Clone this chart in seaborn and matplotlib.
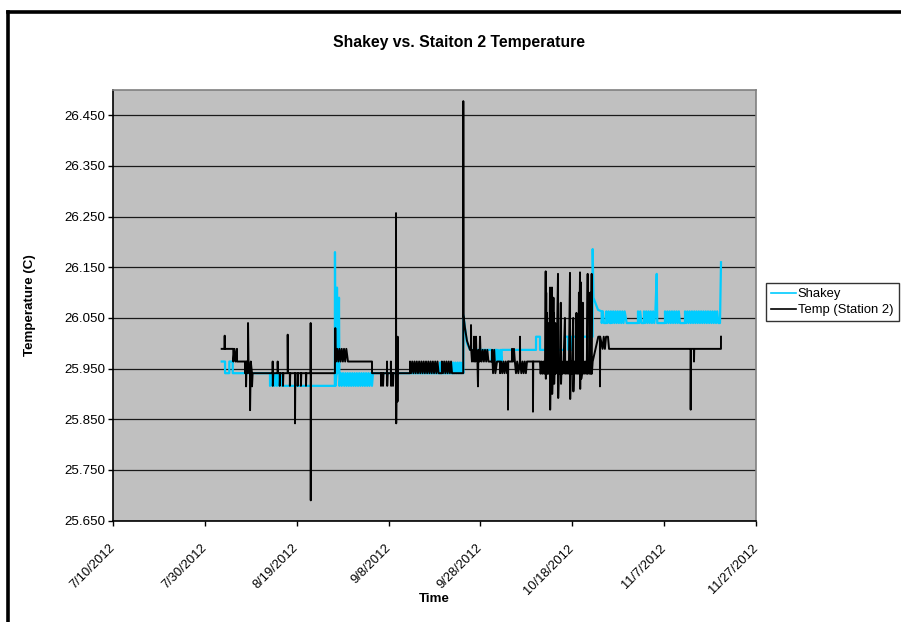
import numpy as np
import pandas as pd
import matplotlib
matplotlib.use("Agg")
import matplotlib.pyplot as plt
from matplotlib.lines import Line2D
import seaborn as sns

plt.rcParams['font.family'] = ['Liberation Sans', 'DejaVu Sans']

# ---------------- data ----------------
start_date = "2012-07-10"
series_names = ["Shakey", "Temp (Station 2)"]

# Shakey: days after 7/10/2012, temperature (C)
shakey_day = [
    23.67, 24.39, 24.40, 25.32, 25.33, 26.06, 26.07, 34.18,
    34.19, 34.45, 34.70, 34.95, 35.20, 35.45, 35.70, 35.95, 36.20, 36.45, 36.80,
    48.30, 48.33, 48.45, 48.70, 48.77, 48.85, 49.21, 49.30,
    49.60, 49.80, 50.08, 50.35, 50.60, 50.85, 51.10, 51.35, 51.60, 51.85,
    52.10, 52.35, 52.60, 52.85, 53.10, 53.35, 53.60, 53.85, 54.10, 54.35,
    54.60, 54.85, 55.10, 55.35, 55.60, 55.85, 56.10, 56.39, 56.61,
    71.20, 71.21, 71.40, 71.41, 74.03,
    74.04, 74.30, 74.55, 74.80, 75.05, 75.30, 75.55, 75.80, 76.05, 76.27,
    76.28, 76.64, 77.07, 77.73,
    82.45, 82.46, 82.70, 82.95, 83.17, 83.54, 83.55, 83.80, 84.05, 84.30, 84.63, 84.64,
    92.10, 92.11, 92.97, 92.98,
    98.41, 98.42, 99.13, 99.14, 99.87, 99.88, 100.96, 100.97, 101.68, 101.69,
    104.43, 104.44, 104.60, 105.60, 106.40,
    106.41, 106.65, 106.90, 107.40, 107.41, 107.65, 107.90, 108.15, 108.40, 108.41,
    108.65, 108.90, 109.15, 109.40, 109.65, 109.90, 110.15, 110.40, 110.65, 110.90,
    111.15, 111.40, 111.84, 114.30,
    114.31, 114.55, 114.80, 115.05, 115.60, 115.61, 115.85, 116.10, 116.35, 116.60,
    116.85, 117.10, 117.35, 117.60, 117.85, 118.10, 118.38, 118.50, 120.18,
    120.19, 120.45, 120.70, 120.95, 121.20, 121.45, 121.70, 121.95, 122.20, 122.45,
    122.70, 122.95, 123.20, 123.45, 123.88, 124.54,
    124.55, 124.80, 125.05, 125.30, 125.55, 125.80, 126.05, 126.30, 126.55, 126.80,
    127.05, 127.30, 127.55, 127.80, 128.05, 128.30, 128.55, 128.80, 129.05, 129.30,
    129.55, 129.80, 130.05, 130.30, 130.55, 130.80, 131.05, 131.30, 131.55, 131.80,
    132.16, 132.38,
]
shakey_val = [
    25.964, 25.964, 25.941, 25.941, 25.964, 25.964, 25.941, 25.941,
    25.916, 25.941, 25.916, 25.941, 25.916, 25.941, 25.916, 25.941, 25.916, 25.941, 25.916,
    25.916, 26.180, 25.916, 25.941, 26.110, 25.941, 26.090, 25.916,
    25.941, 25.916, 25.941, 25.916, 25.941, 25.916, 25.941, 25.916, 25.941, 25.916,
    25.941, 25.916, 25.941, 25.916, 25.941, 25.916, 25.941, 25.916, 25.941, 25.916,
    25.941, 25.916, 25.941, 25.916, 25.941, 25.916, 25.941, 25.916, 25.941,
    25.941, 25.962, 25.962, 25.941, 25.941,
    25.962, 25.941, 25.962, 25.941, 25.962, 25.941, 25.962, 25.941, 25.962, 25.941,
    26.056, 26.030, 26.000, 25.987,
    25.987, 25.964, 25.987, 25.964, 25.987, 25.987, 25.964, 25.987, 25.964, 25.987, 25.964, 25.987,
    25.987, 26.013, 26.013, 25.987,
    25.987, 26.013, 26.013, 25.987, 25.987, 26.013, 26.013, 25.987, 25.987, 26.013,
    26.013, 26.186, 26.090, 26.066, 26.063,
    26.040, 26.063, 26.040, 26.040, 26.063, 26.040, 26.063, 26.040, 26.040, 26.063,
    26.040, 26.063, 26.040, 26.063, 26.040, 26.063, 26.040, 26.063, 26.040, 26.063,
    26.040, 26.063, 26.040, 26.040,
    26.063, 26.040, 26.063, 26.040, 26.040, 26.063, 26.040, 26.063, 26.040, 26.063,
    26.040, 26.063, 26.040, 26.063, 26.040, 26.063, 26.137, 26.040, 26.040,
    26.063, 26.040, 26.063, 26.040, 26.063, 26.040, 26.063, 26.040, 26.063, 26.040,
    26.063, 26.040, 26.063, 26.040, 26.040, 26.040,
    26.063, 26.040, 26.063, 26.040, 26.063, 26.040, 26.063, 26.040, 26.063, 26.040,
    26.063, 26.040, 26.063, 26.040, 26.063, 26.040, 26.063, 26.040, 26.063, 26.040,
    26.063, 26.040, 26.063, 26.040, 26.063, 26.040, 26.063, 26.040, 26.063, 26.040,
    26.040, 26.160,
]

# Temp (Station 2): days after 7/10/2012, temperature (C)
station_day = [
    23.67, 24.31, 24.32, 24.33, 26.19, 26.20, 26.45, 26.70, 27.00, 27.01, 28.74,
    28.75, 28.96, 28.97, 29.10, 29.39, 29.40, 29.50, 29.83, 29.84, 30.00, 30.26, 30.27, 30.40,
    34.76, 34.77, 34.80, 34.90, 35.85, 35.86, 35.90, 36.30, 36.31, 36.40,
    37.00, 37.01, 37.10, 38.03, 38.04, 38.10, 38.50, 38.51, 38.60,
    39.62, 39.63, 39.70, 40.20, 40.21, 40.30, 40.90, 40.91, 41.00,
    42.01, 42.02, 42.10, 43.03, 43.04, 43.06, 43.10,
    48.32, 48.33, 48.40, 48.50, 48.55, 48.80, 49.05, 49.30, 49.55, 49.80, 50.05,
    50.30, 50.55, 50.80, 51.16, 56.39, 56.40,
    58.34, 58.35, 58.45, 58.78, 58.79, 58.90, 59.65, 59.66, 59.70, 59.80,
    60.50, 60.51, 60.55, 60.65, 60.95, 60.96, 61.05,
    61.61, 61.62, 61.66, 61.75, 61.93, 61.94, 61.98, 62.05, 64.66,
    64.67, 64.90, 65.15, 65.40, 65.65, 65.90, 66.15, 66.40, 66.65, 66.90,
    67.15, 67.40, 67.65, 67.90, 68.15, 68.40, 68.65, 68.90, 69.15, 69.40,
    69.65, 69.90, 70.15, 70.40, 70.65, 70.90, 71.60, 71.61, 71.85, 72.10,
    72.35, 72.60, 72.85, 73.10, 73.35, 73.60, 73.81,
    76.26, 76.27, 76.30, 76.64, 77.07, 77.73, 77.94, 77.95, 78.00, 78.16,
    78.40, 78.60, 78.61, 78.65, 78.90, 79.04, 79.10, 79.35, 79.47, 79.55,
    79.80, 79.91, 80.00, 80.25, 80.50, 80.75, 81.00, 81.25, 81.50, 81.75,
    82.08, 82.52, 82.53, 82.75, 83.00, 83.25, 83.61, 84.26, 84.27, 84.50,
    84.75, 85.00, 85.25, 85.50, 85.78, 85.99, 86.00, 86.05, 86.87, 86.88,
    87.10, 87.30, 87.50, 87.74, 88.00, 88.25, 88.60, 88.61, 88.65, 88.90,
    89.15, 89.40, 89.65, 89.90, 90.14, 91.43, 91.44, 91.50, 92.97,
    93.10, 93.30, 93.50, 93.70, 93.90, 94.10, 94.21, 94.25, 94.32, 94.36,
    94.50, 94.55, 94.70, 94.80, 95.00, 95.15, 95.18, 95.30, 95.45, 95.58,
    95.62, 95.80, 95.90, 95.95, 96.00, 96.05, 96.20, 96.30, 96.40, 96.60,
    96.89, 96.93, 97.10, 97.30, 97.50, 97.55, 97.70, 97.90, 98.10, 98.40,
    98.45, 98.65, 98.85, 99.05, 99.25, 99.50, 99.54, 99.70, 99.90, 100.20,
    100.24, 100.40, 100.60, 100.80, 100.90, 101.00, 101.20, 101.30, 101.45, 101.50,
    101.68, 101.72, 101.90, 101.95, 102.10, 102.30, 102.35, 102.55, 102.75, 102.95,
    103.15, 103.35, 103.40, 103.60, 103.80, 103.90, 103.95, 104.05, 104.22, 104.26,
    104.44, 105.66, 106.02, 106.03, 106.08, 106.60, 106.85, 107.10, 107.35, 107.77,
    108.00, 108.21, 125.77, 125.78, 125.82, 126.49, 126.50, 126.55, 132.37, 132.38,
]
station_val = [
    25.989, 25.989, 26.015, 25.989, 25.989, 25.964, 25.989, 25.964, 25.989, 25.964, 25.964,
    25.941, 25.964, 25.915, 25.964, 25.941, 26.040, 25.964, 25.941, 25.868, 25.964, 25.941, 25.915, 25.941,
    25.941, 25.964, 25.916, 25.941, 25.941, 25.964, 25.941, 25.941, 25.916, 25.941,
    25.941, 25.916, 25.941, 25.941, 26.017, 25.941, 25.941, 25.916, 25.941,
    25.941, 25.842, 25.941, 25.941, 25.916, 25.941, 25.941, 25.916, 25.941,
    25.941, 25.916, 25.941, 25.941, 26.040, 25.690, 25.941,
    25.941, 25.989, 26.030, 25.989, 25.964, 25.989, 25.964, 25.989, 25.964, 25.989, 25.964,
    25.989, 25.964, 25.989, 25.964, 25.964, 25.941,
    25.941, 25.916, 25.941, 25.941, 25.916, 25.941, 25.941, 25.964, 25.916, 25.941,
    25.941, 25.964, 25.916, 25.941, 25.941, 25.916, 25.941,
    25.941, 26.257, 25.842, 25.941, 25.941, 25.885, 26.013, 25.941, 25.941,
    25.964, 25.941, 25.964, 25.941, 25.964, 25.941, 25.964, 25.941, 25.964, 25.941,
    25.964, 25.941, 25.964, 25.941, 25.964, 25.941, 25.964, 25.941, 25.964, 25.941,
    25.964, 25.941, 25.964, 25.941, 25.964, 25.941, 25.941, 25.964, 25.941, 25.964,
    25.941, 25.964, 25.941, 25.964, 25.941, 25.964, 25.941,
    25.941, 26.478, 26.056, 26.030, 26.005, 25.987, 25.987, 26.036, 25.987, 25.964,
    25.987, 25.964, 26.013, 25.987, 25.964, 26.013, 25.987, 25.964, 25.915, 25.987,
    25.964, 26.013, 25.987, 25.964, 25.987, 25.964, 25.987, 25.964, 25.987, 25.964,
    25.964, 25.964, 25.987, 25.941, 25.987, 25.941, 25.964, 25.964, 25.941, 25.964,
    25.941, 25.964, 25.941, 25.964, 25.941, 25.964, 25.869, 25.964, 25.964, 25.989,
    25.964, 25.989, 25.964, 25.941, 25.964, 25.941, 25.964, 26.013, 25.964, 25.941,
    25.964, 25.941, 25.964, 25.941, 25.964, 25.964, 25.865, 25.964, 25.964,
    25.940, 25.964, 25.940, 25.964, 25.940, 25.964, 26.142, 25.930, 26.100, 25.940,
    26.060, 25.940, 26.040, 25.940, 25.964, 26.110, 25.869, 25.964, 25.940, 26.110,
    25.900, 25.964, 26.090, 25.940, 26.060, 25.920, 25.964, 26.040, 25.940, 25.964,
    26.137, 25.892, 25.964, 25.940, 26.080, 25.920, 25.964, 25.940, 25.964, 26.050,
    25.940, 25.964, 25.940, 25.964, 25.940, 26.139, 25.890, 25.964, 25.940, 26.050,
    25.905, 25.964, 25.940, 25.964, 26.060, 25.940, 26.040, 25.940, 26.100, 25.964,
    26.140, 25.910, 26.120, 25.930, 25.940, 26.080, 25.940, 25.964, 25.940, 25.964,
    25.940, 26.137, 25.940, 25.964, 25.940, 26.100, 25.964, 25.940, 26.137, 25.940,
    25.964, 26.013, 26.013, 25.915, 26.013, 25.989, 26.013, 25.989, 26.013, 26.013,
    25.989, 25.989, 25.989, 25.869, 25.989, 25.989, 25.964, 25.989, 25.989, 26.013,
]

ytick_values = [25.65, 25.75, 25.85, 25.95, 26.05, 26.15, 26.25, 26.35, 26.45]
xtick_labels = ["7/10/2012", "7/30/2012", "8/19/2012", "9/8/2012",
                "9/28/2012", "10/18/2012", "11/7/2012", "11/27/2012"]

# ---------------- frames ----------------
t0 = pd.Timestamp(start_date)
df_shakey = pd.DataFrame({"time": t0 + pd.to_timedelta(shakey_day, unit="D"),
                          "temp": shakey_val})
df_station = pd.DataFrame({"time": t0 + pd.to_timedelta(station_day, unit="D"),
                           "temp": station_val})

W, H = 901, 622
fig = plt.figure(figsize=(W / 100, H / 100), dpi=100)
fig.patch.set_facecolor("white")
L, R, T, B = 113, 756, 90, 520.6
ax = fig.add_axes([L / W, 1 - B / H, (R - L) / W, (B - T) / H])
ax.set_facecolor("#C0C0C0")

cyan = "#00CCFF"
sns.lineplot(data=df_shakey, x="time", y="temp", ax=ax, color=cyan, lw=1.6,
             estimator=None, sort=False, legend=False)
sns.lineplot(data=df_station, x="time", y="temp", ax=ax, color="black", lw=1.4,
             estimator=None, sort=False, legend=False)

ax.set_xlim(t0, pd.Timestamp("2012-11-27"))
ax.set_ylim(25.65, 26.50)
ax.set_yticks(ytick_values)
ax.set_yticklabels([f"{v:.3f}" for v in ytick_values])
xt = pd.to_datetime(xtick_labels, format="%m/%d/%Y")
ax.set_xticks(xt)
ax.set_xticklabels(xtick_labels, rotation=45, ha="right", va="center",
                   rotation_mode="anchor")
ax.tick_params(axis="both", length=3.6, width=1, color="black", direction="out")
ax.tick_params(axis="y", pad=2, labelsize=9.6)
ax.tick_params(axis="x", pad=15, labelsize=9.3)
ax.set_xlabel("")
ax.set_ylabel("")
ax.yaxis.grid(True, color="#1a1a1a", lw=0.9)
ax.xaxis.grid(False)
ax.set_axisbelow(True)
for s in ["left", "bottom"]:
    ax.spines[s].set_color("black")
    ax.spines[s].set_linewidth(1.2)
for s in ["top", "right"]:
    ax.spines[s].set_color("#808080")
    ax.spines[s].set_linewidth(1.2)

fig.text(459 / W, 1 - 43 / H, "Shakey vs. Staiton 2 Temperature", ha="center",
         va="center", fontsize=11.3, fontweight="bold")
fig.text(434 / W, 1 - 599 / H, "Time", ha="center", va="center",
         fontsize=9.6, fontweight="bold")
fig.text(30 / W, 1 - 305 / H, "Temperature (C)", ha="center", va="center",
         rotation=90, fontsize=9.6, fontweight="bold")

handles = [Line2D([], [], color=cyan, lw=1.2), Line2D([], [], color="black", lw=1.2)]
leg = fig.legend(handles, series_names, loc="upper left",
                 bbox_to_anchor=(766 / W, 1 - 283 / H), fontsize=9.35,
                 frameon=True, fancybox=False, shadow=False, borderpad=0.4,
                 handlelength=1.9, handletextpad=0.15, labelspacing=0.3,
                 borderaxespad=0)
leg.get_frame().set_edgecolor("black")
leg.get_frame().set_linewidth(1.0)

# outer chart border (left and top visible)
fig.add_artist(Line2D([8 / W, 8 / W], [0, 1 - 11.5 / H], transform=fig.transFigure,
                      color="black", lw=2.6))
fig.add_artist(Line2D([8 / W, 1], [1 - 11.5 / H, 1 - 11.5 / H],
                      transform=fig.transFigure, color="black", lw=2.6))

fig.savefig("out.png", dpi=100)
